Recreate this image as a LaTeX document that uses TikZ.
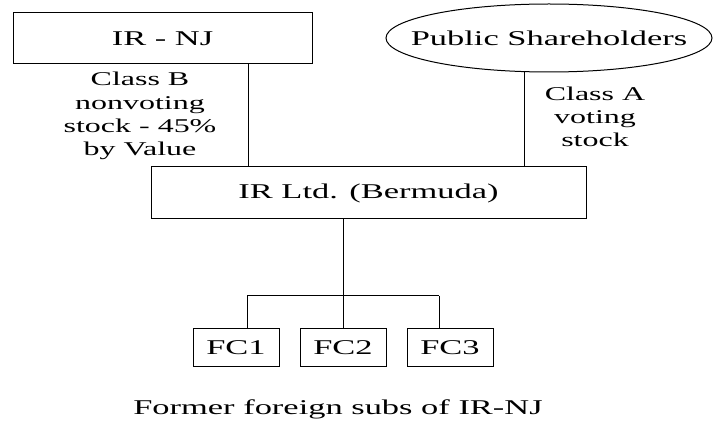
\documentclass[tikz,border=0pt]{standalone}
\usepackage{fontspec}
\setmainfont{Liberation Serif}[FakeStretch=1.64]
\usetikzlibrary{shapes.geometric}
\begin{document}
\begin{tikzpicture}[x=1pt,y=-1pt,
  every node/.style={inner sep=0pt, outer sep=0pt},
  mainfont/.style={font=\fontsize{21}{25}\selectfont},
  box/.style={draw, line width=1pt, rectangle, mainfont},
  oval/.style={draw, line width=1pt, ellipse},
  lbl/.style={align=center, font=\fontsize{19.5}{23.3}\selectfont},
  conn/.style={line width=1pt}]
\useasboundingbox (0,0) rectangle (713,422);
\node[box, minimum width=299pt, minimum height=51pt] (irnj) at (162.5,38.5) {IR - NJ};
\node[oval, minimum width=326pt, minimum height=68pt,
  label={[mainfont]center:Public Shareholders}] (ps) at (549,38) {};
\node[box, minimum width=435pt, minimum height=52pt] (irltd) at (368.5,193) {IR Ltd. (Bermuda)};
\node[box, minimum width=86pt, minimum height=38pt] (fc1) at (236,348) {FC1};
\node[box, minimum width=86pt, minimum height=38pt] (fc2) at (343,348) {FC2};
\node[box, minimum width=86pt, minimum height=38pt] (fc3) at (450,348) {FC3};
\node[lbl] (classb) at (140,116) {Class B\\nonvoting\\stock - 45\%\\by Value};
\node[lbl] (classa) at (595,117) {Class A\\voting\\stock};
\node[mainfont] (former) at (338,409) {Former foreign subs of IR-NJ};
\coordinate (xb) at (248,0);
\coordinate (xa) at (524,0);
\coordinate (jl) at (247,296);
\coordinate (jm) at (343,296);
\coordinate (jr) at (439,296);
\draw[conn] (irnj.south -| xb) -- (irltd.north -| xb);
\draw[conn] (ps.south -| xa) -- (irltd.north -| xa);
\draw[conn] (irltd.south -| jm) -- (jm);
\draw[conn] (jl) -- (jr);
\draw[conn] (jl) -- (jl |- fc1.north);
\draw[conn] (jm) -- (jm |- fc2.north);
\draw[conn] (jr) -- (jr |- fc3.north);
\end{tikzpicture}
\end{document}
